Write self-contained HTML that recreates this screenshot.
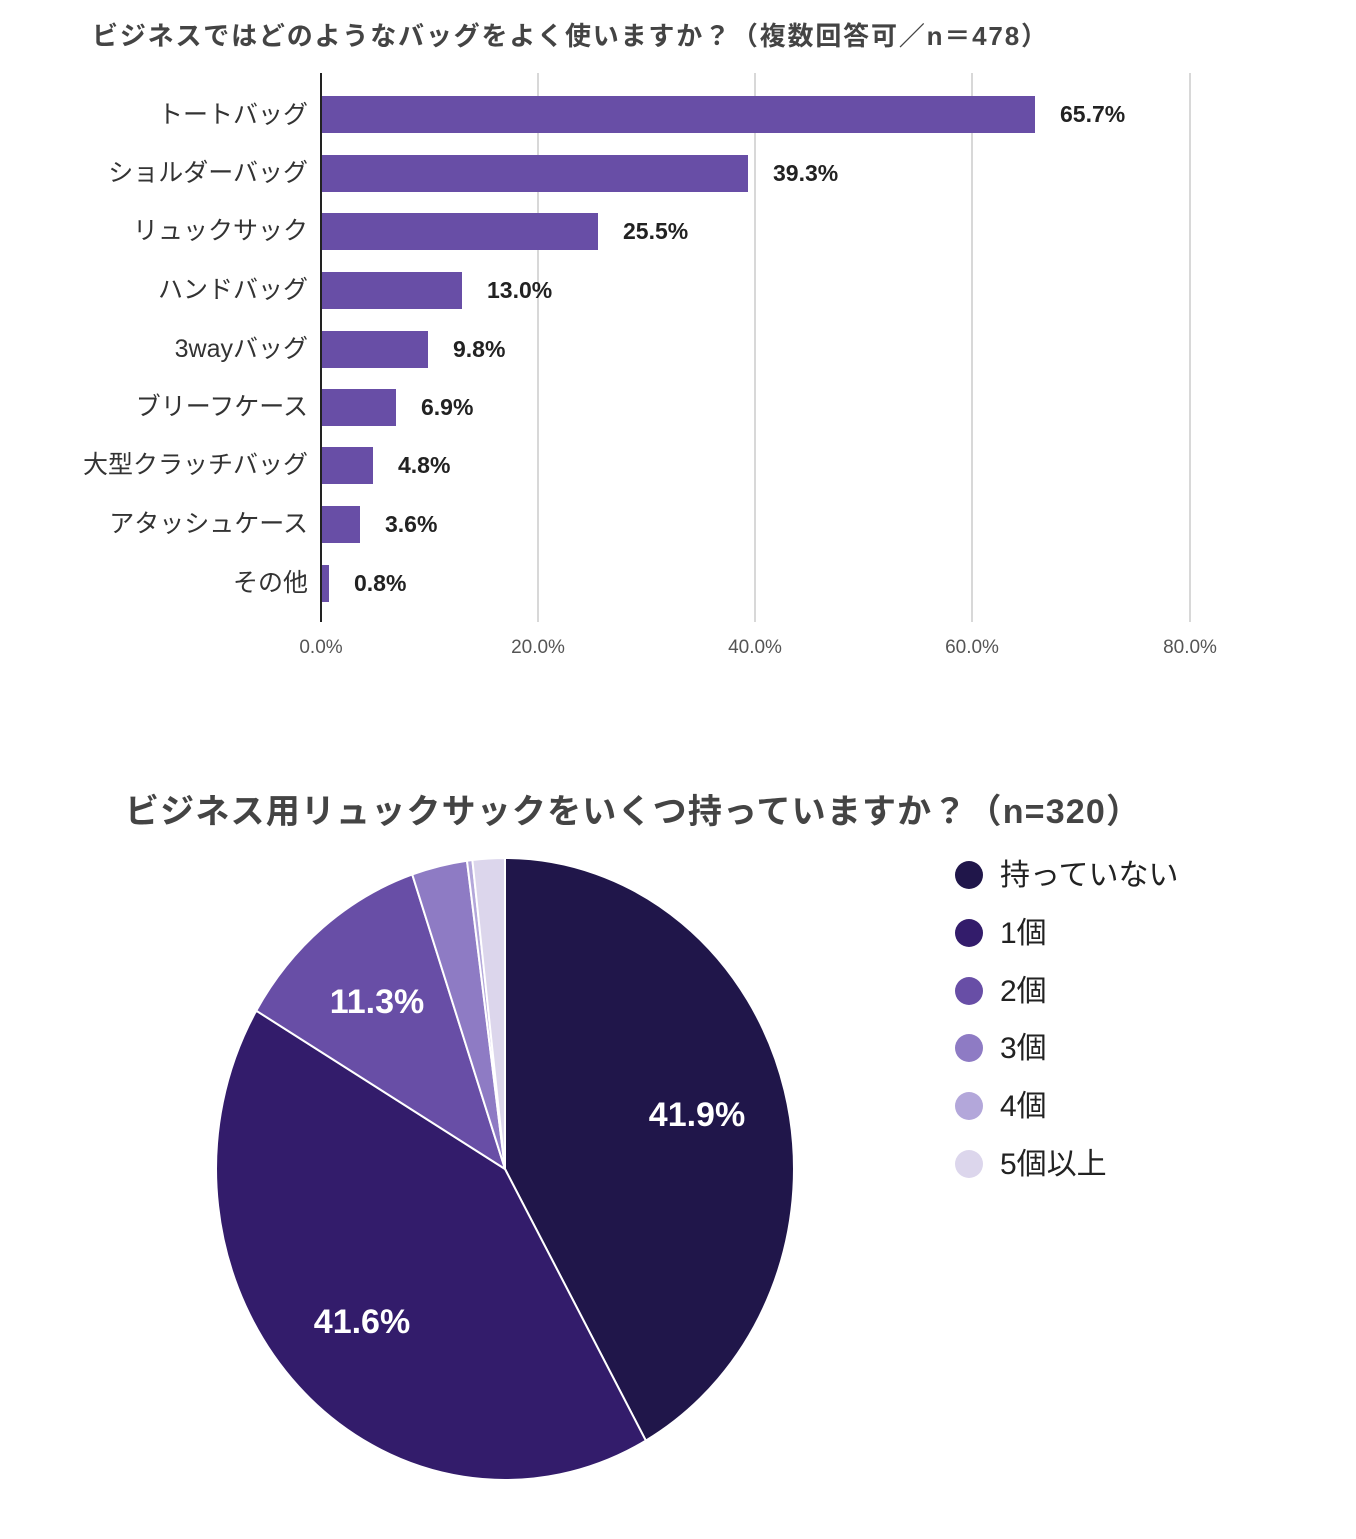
<!DOCTYPE html>
<html><head><meta charset="utf-8"><style>
html,body{margin:0;padding:0;background:#fff}
svg{display:block}
text{font-family:"Liberation Sans","Noto Sans CJK JP",sans-serif}
</style></head><body>
<svg width="1356" height="1539" viewBox="0 0 1356 1539" xmlns="http://www.w3.org/2000/svg">
<rect width="1356" height="1539" fill="#fff"/>
<text x="92" y="45" font-size="26" font-weight="bold" fill="#444" textLength="955" lengthAdjust="spacing">ビジネスではどのようなバッグをよく使いますか？（複数回答可／n＝478）</text>
<g stroke="#ccc" stroke-width="1.5">
<line x1="538" y1="73" x2="538" y2="622"/><line x1="755" y1="73" x2="755" y2="622"/>
<line x1="972" y1="73" x2="972" y2="622"/><line x1="1190" y1="73" x2="1190" y2="622"/>
</g>
<g fill="#684ea6">
<rect x="321" y="96" width="714" height="37"/>
<rect x="321" y="155" width="427" height="37"/>
<rect x="321" y="213" width="277" height="37"/>
<rect x="321" y="272" width="141" height="37"/>
<rect x="321" y="331" width="107" height="37"/>
<rect x="321" y="389" width="75" height="37"/>
<rect x="321" y="447" width="52" height="37"/>
<rect x="321" y="506" width="39" height="37"/>
<rect x="321" y="565" width="8" height="37"/>
</g>
<line x1="321" y1="73" x2="321" y2="622" stroke="#222" stroke-width="2"/>
<g font-size="25" fill="#333" text-anchor="end">
<text x="308" y="123">トートバッグ</text>
<text x="308" y="181">ショルダーバッグ</text>
<text x="308" y="239">リュックサック</text>
<text x="308" y="298">ハンドバッグ</text>
<text x="308" y="357">3wayバッグ</text>
<text x="308" y="415">ブリーフケース</text>
<text x="308" y="473">大型クラッチバッグ</text>
<text x="308" y="532">アタッシュケース</text>
<text x="308" y="591">その他</text>
</g>
<g font-size="23" font-weight="bold" fill="#222">
<text x="1060" y="122">65.7%</text>
<text x="773" y="181">39.3%</text>
<text x="623" y="239">25.5%</text>
<text x="487" y="298">13.0%</text>
<text x="453" y="357">9.8%</text>
<text x="421" y="415">6.9%</text>
<text x="398" y="473">4.8%</text>
<text x="385" y="532">3.6%</text>
<text x="354" y="591">0.8%</text>
</g>
<g font-size="19" fill="#555" text-anchor="middle">
<text x="321" y="653">0.0%</text><text x="538" y="653">20.0%</text><text x="755" y="653">40.0%</text>
<text x="972" y="653">60.0%</text><text x="1190" y="653">80.0%</text>
</g>
<text x="125" y="823" font-size="34" font-weight="bold" fill="#444" textLength="1015" lengthAdjust="spacing">ビジネス用リュックサックをいくつ持っていますか？（n=320）</text>
<g transform="translate(505,1169) scale(289,311)" stroke="#fff" stroke-width="2" vector-effect="non-scaling-stroke">
<path d="M0,0 L0,-1 A1,1 0 0 1 0.4873,0.8732 Z" fill="#20164a" vector-effect="non-scaling-stroke"/>
<path d="M0,0 L0.4873,0.8732 A1,1 0 0 1 -0.8607,-0.5090 Z" fill="#331c6b" vector-effect="non-scaling-stroke"/>
<path d="M0,0 L-0.8607,-0.5090 A1,1 0 0 1 -0.3210,-0.9471 Z" fill="#684ea6" vector-effect="non-scaling-stroke"/>
<path d="M0,0 L-0.3210,-0.9471 A1,1 0 0 1 -0.1316,-0.9913 Z" fill="#8e7bc4" vector-effect="non-scaling-stroke"/>
<path d="M0,0 L-0.1316,-0.9913 A1,1 0 0 1 -0.1129,-0.9936 Z" fill="#b3a7da" vector-effect="non-scaling-stroke"/>
<path d="M0,0 L-0.1129,-0.9936 A1,1 0 0 1 0,-1 Z" fill="#dcd6ec" vector-effect="non-scaling-stroke"/>
</g>
<g font-size="34" font-weight="bold" fill="#fff" text-anchor="middle">
<text x="697" y="1126">41.9%</text>
<text x="362" y="1333">41.6%</text>
<text x="377" y="1013">11.3%</text>
</g>
<g>
<circle cx="969" cy="875" r="14" fill="#20164a"/>
<circle cx="969" cy="933" r="14" fill="#331c6b"/>
<circle cx="969" cy="991" r="14" fill="#684ea6"/>
<circle cx="969" cy="1048" r="14" fill="#8e7bc4"/>
<circle cx="969" cy="1106" r="14" fill="#b3a7da"/>
<circle cx="969" cy="1164" r="14" fill="#dcd6ec"/>
</g>
<g font-size="30" fill="#222">
<text x="1000" y="885">持っていない</text>
<text x="1000" y="943">1個</text>
<text x="1000" y="1001">2個</text>
<text x="1000" y="1058">3個</text>
<text x="1000" y="1116">4個</text>
<text x="1000" y="1174">5個以上</text>
</g>
</svg>
</body></html>
